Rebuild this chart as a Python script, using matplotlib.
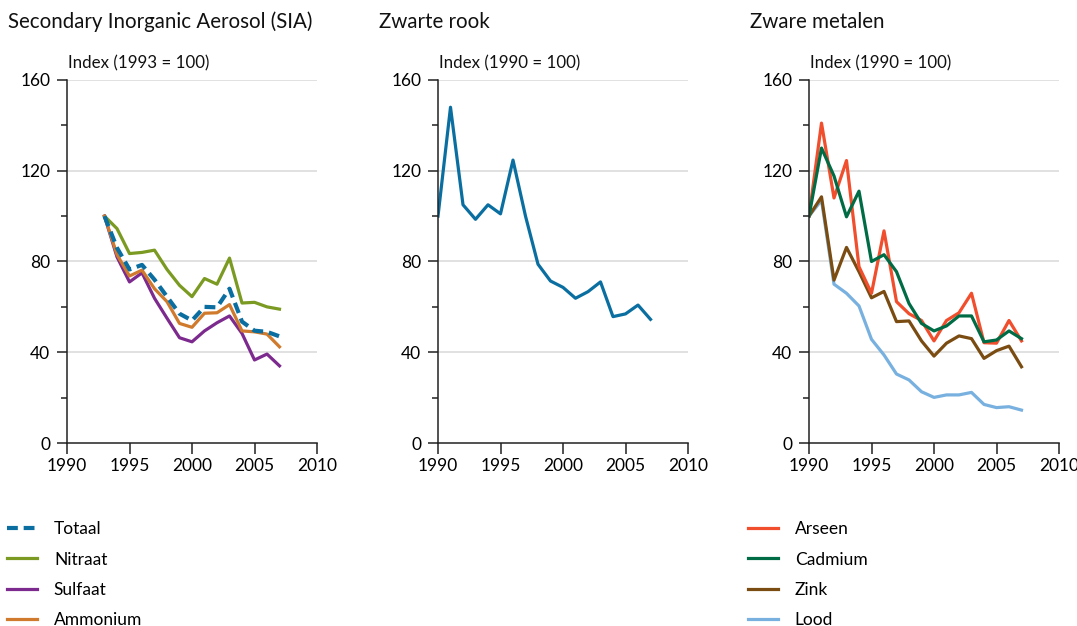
import matplotlib
matplotlib.use("Agg")
import matplotlib.pyplot as plt
from matplotlib.ticker import MultipleLocator

plt.rcParams['font.family'] = ['Lato', 'DejaVu Sans']

# data (index values)
sia_years = list(range(1993, 2008))
totaal = [100, 86, 76.5, 78.5, 72, 64.5, 57, 54, 60, 59.8, 68, 53.5, 49.5, 49, 47]
nitraat = [100, 94.5, 83.5, 84, 85, 76.5, 69.5, 64.5, 72.5, 70, 81.5, 61.7, 62, 60, 59]
sulfaat = [100, 82, 71, 75, 63.8, 55, 46.4, 44.6, 49.4, 53, 56, 48.3, 36.6, 39.2, 34]
ammonium = [100, 83, 73.6, 76.2, 68, 62.3, 52.7, 51, 57.2, 57.4, 61, 49.4, 49, 48, 42.4]

rook_years = list(range(1990, 2008))
zwarte_rook = [100, 148, 105, 98.6, 105, 101, 124.7, 100, 78.8, 71.4, 68.6, 63.8, 66.7,
               71, 55.7, 56.9, 60.8, 54.5]

metaal_years = list(range(1990, 2008))
arseen = [100, 141, 108, 124.5, 77.7, 66, 93.5, 62.3, 57, 54, 45, 54, 57.4, 66, 44.2,
          44, 54, 45]
cadmium = [100, 130, 117.7, 99.7, 111, 80, 83, 75.5, 61.5, 52.7, 49.4, 51.6, 56, 56,
           44.6, 45.4, 49.4, 46]
zink = [100, 108.5, 71.8, 86.2, 75.5, 64, 66.8, 53.5, 53.8, 45, 38.3, 44, 47.2, 46,
        37.3, 40.7, 42.7, 33.6]
lood = [100, 107, 70, 66, 60.4, 45.7, 38.8, 30.4, 27.8, 22.6, 20.1, 21.2, 21.2, 22.3,
        17, 15.6, 16, 14.5]

W, H = 1077, 626
fig = plt.figure(figsize=(W / 100, H / 100), dpi=100)


def make_axes(left_px, title, subtitle):
    ax = fig.add_axes([left_px / W, (H - 443) / H, 250 / W, 363 / H])
    ax.set_xlim(1990, 2010)
    ax.set_ylim(0, 160)
    ax.xaxis.set_major_locator(MultipleLocator(5))
    ax.yaxis.set_major_locator(MultipleLocator(40))
    ax.yaxis.set_minor_locator(MultipleLocator(20))
    for s in ['top', 'right']:
        ax.spines[s].set_visible(False)
    for s in ['left', 'bottom']:
        ax.spines[s].set_color('#222222')
        ax.spines[s].set_linewidth(1.1)
    ax.tick_params(axis='y', which='major', length=7, width=1.1, color='#222222',
                   labelsize=12.5, pad=5)
    ax.tick_params(axis='y', which='minor', length=4.5, width=1.1, color='#222222')
    ax.tick_params(axis='x', which='major', length=8, width=1.1, color='#222222',
                   labelsize=12.5, pad=3)
    for v in [40, 80, 120, 160]:
        ax.axhline(v, color='#dcdcdc', lw=1.2, zorder=0)
    fig.text((left_px - 59) / W, 1 - 22 / H, title, fontsize=14.8, va='center',
             ha='left', color='#111111')
    fig.text((left_px + 1) / W, 1 - 63 / H, subtitle, fontsize=12.2, va='center',
             ha='left', color='#111111')
    return ax


ax1 = make_axes(67, 'Secondary Inorganic Aerosol (SIA)', 'Index (1993 = 100)')
ax2 = make_axes(438, 'Zwarte rook', 'Index (1990 = 100)')
ax3 = make_axes(809, 'Zware metalen', 'Index (1990 = 100)')

lw = 2.3
ax1.plot(sia_years, nitraat, color='#7a9a22', lw=lw, label='Nitraat')
ax1.plot(sia_years, sulfaat, color='#7d2a8e', lw=lw, label='Sulfaat')
ax1.plot(sia_years, ammonium, color='#cf7a2c', lw=lw, label='Ammonium')
ax1.plot(sia_years, totaal, color='#0a6fa0', lw=3.0, ls=(0, (2.6, 1.4)), label='Totaal')

ax2.plot(rook_years, zwarte_rook, color='#0a6fa0', lw=lw)

ax3.plot(metaal_years, lood, color='#78b1df', lw=lw, label='Lood')
ax3.plot(metaal_years, zink, color='#7a4c12', lw=lw, label='Zink')
ax3.plot(metaal_years, arseen, color='#f04e2c', lw=lw, label='Arseen')
ax3.plot(metaal_years, cadmium, color='#006c45', lw=lw, label='Cadmium')


def add_legend(ax, order, x_px):
    handles, labels = ax.get_legend_handles_labels()
    lookup = dict(zip(labels, handles))
    fig.legend([lookup[k] for k in order], order, loc='upper left',
               bbox_to_anchor=(x_px / W, 1 - 521.5 / H), frameon=False, fontsize=12.5,
               handlelength=1.75, handletextpad=0.95, labelspacing=0.81,
               borderaxespad=0, borderpad=0)


add_legend(ax1, ['Totaal', 'Nitraat', 'Sulfaat', 'Ammonium'], 7)
add_legend(ax3, ['Arseen', 'Cadmium', 'Zink', 'Lood'], 748)

fig.savefig('out.png', dpi=100)
